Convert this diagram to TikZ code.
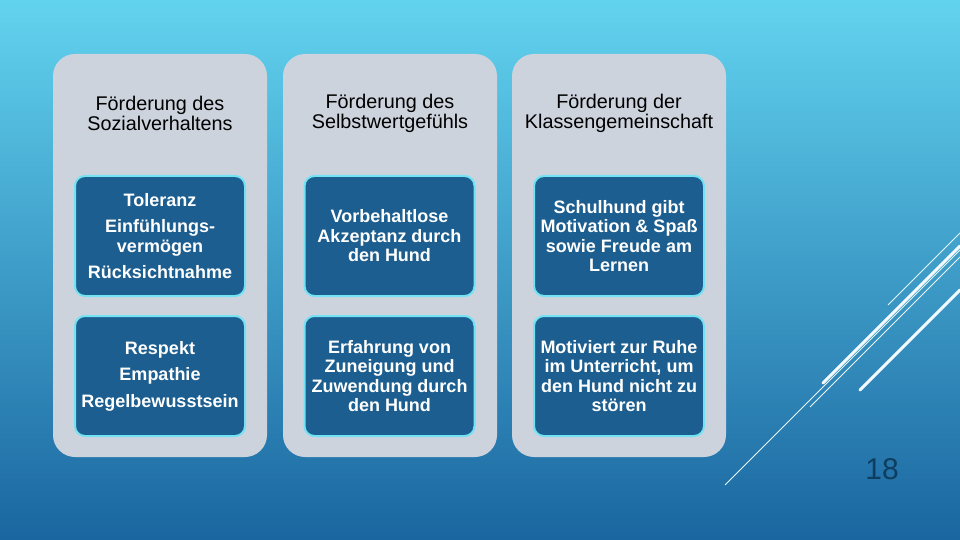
\documentclass[tikz,border=0pt]{standalone}
\usepackage{fontspec}
\setmainfont{Liberation Sans}
\usepackage{xcolor}
\usepackage{tikz}
\definecolor{bgtop}{RGB}{98,211,239}
\definecolor{bgmid}{RGB}{58,160,207}
\definecolor{bgbot}{RGB}{26,102,160}
\definecolor{panelgrey}{RGB}{205,211,221}
\definecolor{cellblue}{RGB}{27,94,143}
\definecolor{cellrim}{RGB}{115,226,242}
\definecolor{pagenum}{RGB}{15,61,96}

\begin{document}
\begin{tikzpicture}[x=1pt,y=-1pt,
  panel/.style={fill=panelgrey, rounded corners=22pt, minimum width=214pt, minimum height=403pt, inner sep=0pt},
  header/.style={text=black, align=center, font=\fontsize{19.8}{20}\selectfont},
  cell/.style={fill=cellblue, draw=cellrim, line width=2pt, rounded corners=10pt, minimum width=170pt, minimum height=120pt, text=white, align=center, font=\fontsize{18}{19.5}\selectfont\bfseries},
  deco/.style={draw=white!90!cyan, line width=0.8pt},
  decothick/.style={draw=white!95!cyan, line width=3pt, line cap=round}]
\useasboundingbox (0,0) rectangle (960,540);
\shade[top color=bgtop, middle color=bgmid, bottom color=bgbot] (0,0) rectangle (960,540);

% panels
\node[panel] (pSozial) at (160,255.5){};
\node[panel] (pSelbst) at (390,255.5){};
\node[panel] (pKlasse) at (619,255.5){};

% headers
\node[header] (hSozial) at (160,113.5){Förderung des\\Sozialverhaltens};
\node[header] (hSelbst) at (390,113.5){Förderung des\\Selbstwertgefühls};
\node[header] (hKlasse) at (619,113.5){Förderung der\\Klassengemeinschaft};

% cells
\node[cell] (sozialA) at (160,236){Toleranz\\[7pt]Einfühlungs-\\vermögen\\[7pt]Rücksichtnahme};
\node[cell] (sozialB) at (160,376){Respekt\\[7pt]Empathie\\[7pt]Regelbewusstsein};
\node[cell] (selbstA) at (389.5,236){Vorbehaltlose\\Akzeptanz durch\\den Hund};
\node[cell] (selbstB) at (389.5,376){Erfahrung von\\Zuneigung und\\Zuwendung durch\\den Hund};
\node[cell] (klasseA) at (619,236){Schulhund gibt\\Motivation \& Spaß\\sowie Freude am\\Lernen};
\node[cell] (klasseB) at (619,376){Motiviert zur Ruhe\\im Unterricht, um\\den Hund nicht zu\\stören};

% decoration lines
\draw[deco] (888,305) -- (960,233);
\draw[deco] (810,407) -- (960,257);
\draw[deco] (725,485) -- (960,250);
\draw[decothick] (823,383) -- (960,246);
\draw[decothick] (860,390) -- (960,290);

\node[text=pagenum, font=\fontsize{30}{32}\selectfont] (pnum) at (882,469){18};
\end{tikzpicture}
\end{document}
